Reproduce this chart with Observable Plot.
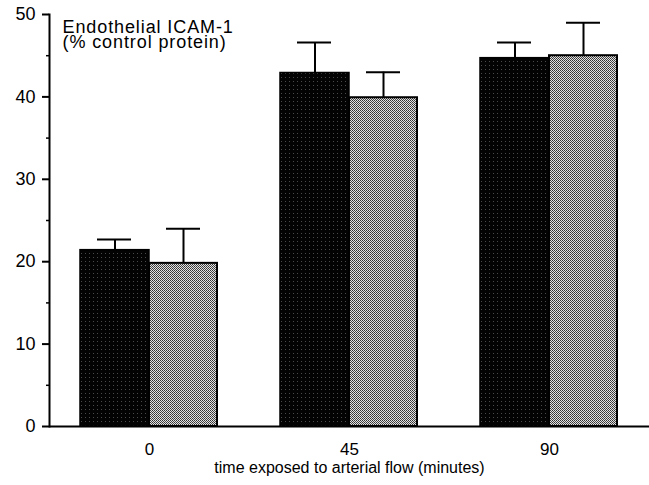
<!DOCTYPE html>
<html>
<head>
<meta charset="utf-8">
<script src="https://cdn.jsdelivr.net/npm/d3@7"></script>
<script src="https://cdn.jsdelivr.net/npm/@observablehq/plot@0.6"></script>
<style>
  html, body { margin: 0; padding: 0; background: #fff; }
  #chart { width: 649px; height: 485px; }
</style>
</head>
<body>
<div id="chart"></div>
<script>
// ---- data ----
const times = [0, 45, 90];
const seriesA = [21.4, 42.9, 44.7];   // dark bars
const seriesAUpper = [22.7, 46.6, 46.6];
const seriesB = [19.8, 39.9, 45.0];   // light (stippled grey) bars
const seriesBUpper = [24.0, 43.0, 49.0];
const yMajorTicks = [0, 10, 20, 30, 40, 50];
const yMinorTicks = [5, 15, 25, 35, 45];
const titleLines = ["Endothelial ICAM-1", "(% control protein)"];
const xLabel = "time exposed to arterial flow (minutes)";

const dataA = times.map((t, i) => ({time: t, value: seriesA[i], upper: seriesAUpper[i]}));
const dataB = times.map((t, i) => ({time: t, value: seriesB[i], upper: seriesBUpper[i]}));

const font = "'Liberation Sans', Arial, Helvetica, sans-serif";

const svg = Plot.plot({
  width: 649,
  height: 485,
  marginLeft: 49,
  marginRight: 0,
  marginTop: 14,
  marginBottom: 59,
  style: {fontFamily: font, color: "black", background: "white"},
  x: {domain: times, padding: 0},
  y: {domain: [0, 50]},
  marks: [
    Plot.barY(dataA, {x: "time", y: "value", insetLeft: 31, insetRight: 100,
      fill: "url(#darkPat)", stroke: "black", strokeWidth: 1.5}),
    Plot.barY(dataB, {x: "time", y: "value", insetLeft: 100, insetRight: 32,
      fill: "url(#greyPat)", stroke: "black", strokeWidth: 2}),
    Plot.ruleX(dataA, {x: "time", y1: "value", y2: "upper", dx: -34.5, strokeWidth: 2}),
    Plot.ruleX(dataB, {x: "time", y1: "value", y2: "upper", dx: 34, strokeWidth: 2}),
    Plot.tickY(dataA, {x: "time", y: "upper", insetLeft: 48, insetRight: 118, strokeWidth: 2}),
    Plot.tickY(dataB, {x: "time", y: "upper", insetLeft: 117, insetRight: 49, strokeWidth: 2}),
    Plot.ruleY([0], {strokeWidth: 2}),
    Plot.frame({anchor: "left", strokeWidth: 2}),
    Plot.axisY({ticks: yMajorTicks, tickSize: 7, tickPadding: 7, fontSize: 18, label: null, strokeWidth: 2}),
    Plot.axisY({ticks: yMinorTicks, tickSize: 3, tickFormat: () => "", label: null, strokeWidth: 1.5}),
    Plot.axisX({tickSize: 0, tickPadding: 16, fontSize: 17, label: null}),
    Plot.text([titleLines.join("\n")], {frameAnchor: "top-left", dx: 13, dy: 7, lineAnchor: "top",
      fontSize: 18, lineHeight: 0.87, fill: "black"}),
    Plot.text([xLabel], {frameAnchor: "bottom", dy: 41, lineAnchor: "middle", fontSize: 16, fill: "black"})
  ]
});

// slightly wider tracking for the in-plot title, like the reference's typeface
d3.select(svg).selectAll("text")
  .filter(function() { return this.textContent.startsWith(titleLines[0]); })
  .attr("letter-spacing", "0.9px");

// texture patterns for the bars
const defs = d3.select(svg).insert("defs", ":first-child");
const dark = defs.append("pattern").attr("id", "darkPat").attr("patternUnits", "userSpaceOnUse")
  .attr("width", 4).attr("height", 4);
dark.append("rect").attr("width", 4).attr("height", 4).attr("fill", "#030303");
dark.append("rect").attr("x", 1).attr("y", 1).attr("width", 1).attr("height", 1).attr("fill", "#4a4a4a");
const grey = defs.append("pattern").attr("id", "greyPat").attr("patternUnits", "userSpaceOnUse")
  .attr("width", 2).attr("height", 2);
grey.append("rect").attr("width", 2).attr("height", 2).attr("fill", "#e2e2e2");
grey.append("rect").attr("x", 0).attr("y", 0).attr("width", 1).attr("height", 1).attr("fill", "#333");
grey.append("rect").attr("x", 1).attr("y", 1).attr("width", 1).attr("height", 1).attr("fill", "#4a4a4a");

document.getElementById("chart").appendChild(svg);
</script>
</body>
</html>
